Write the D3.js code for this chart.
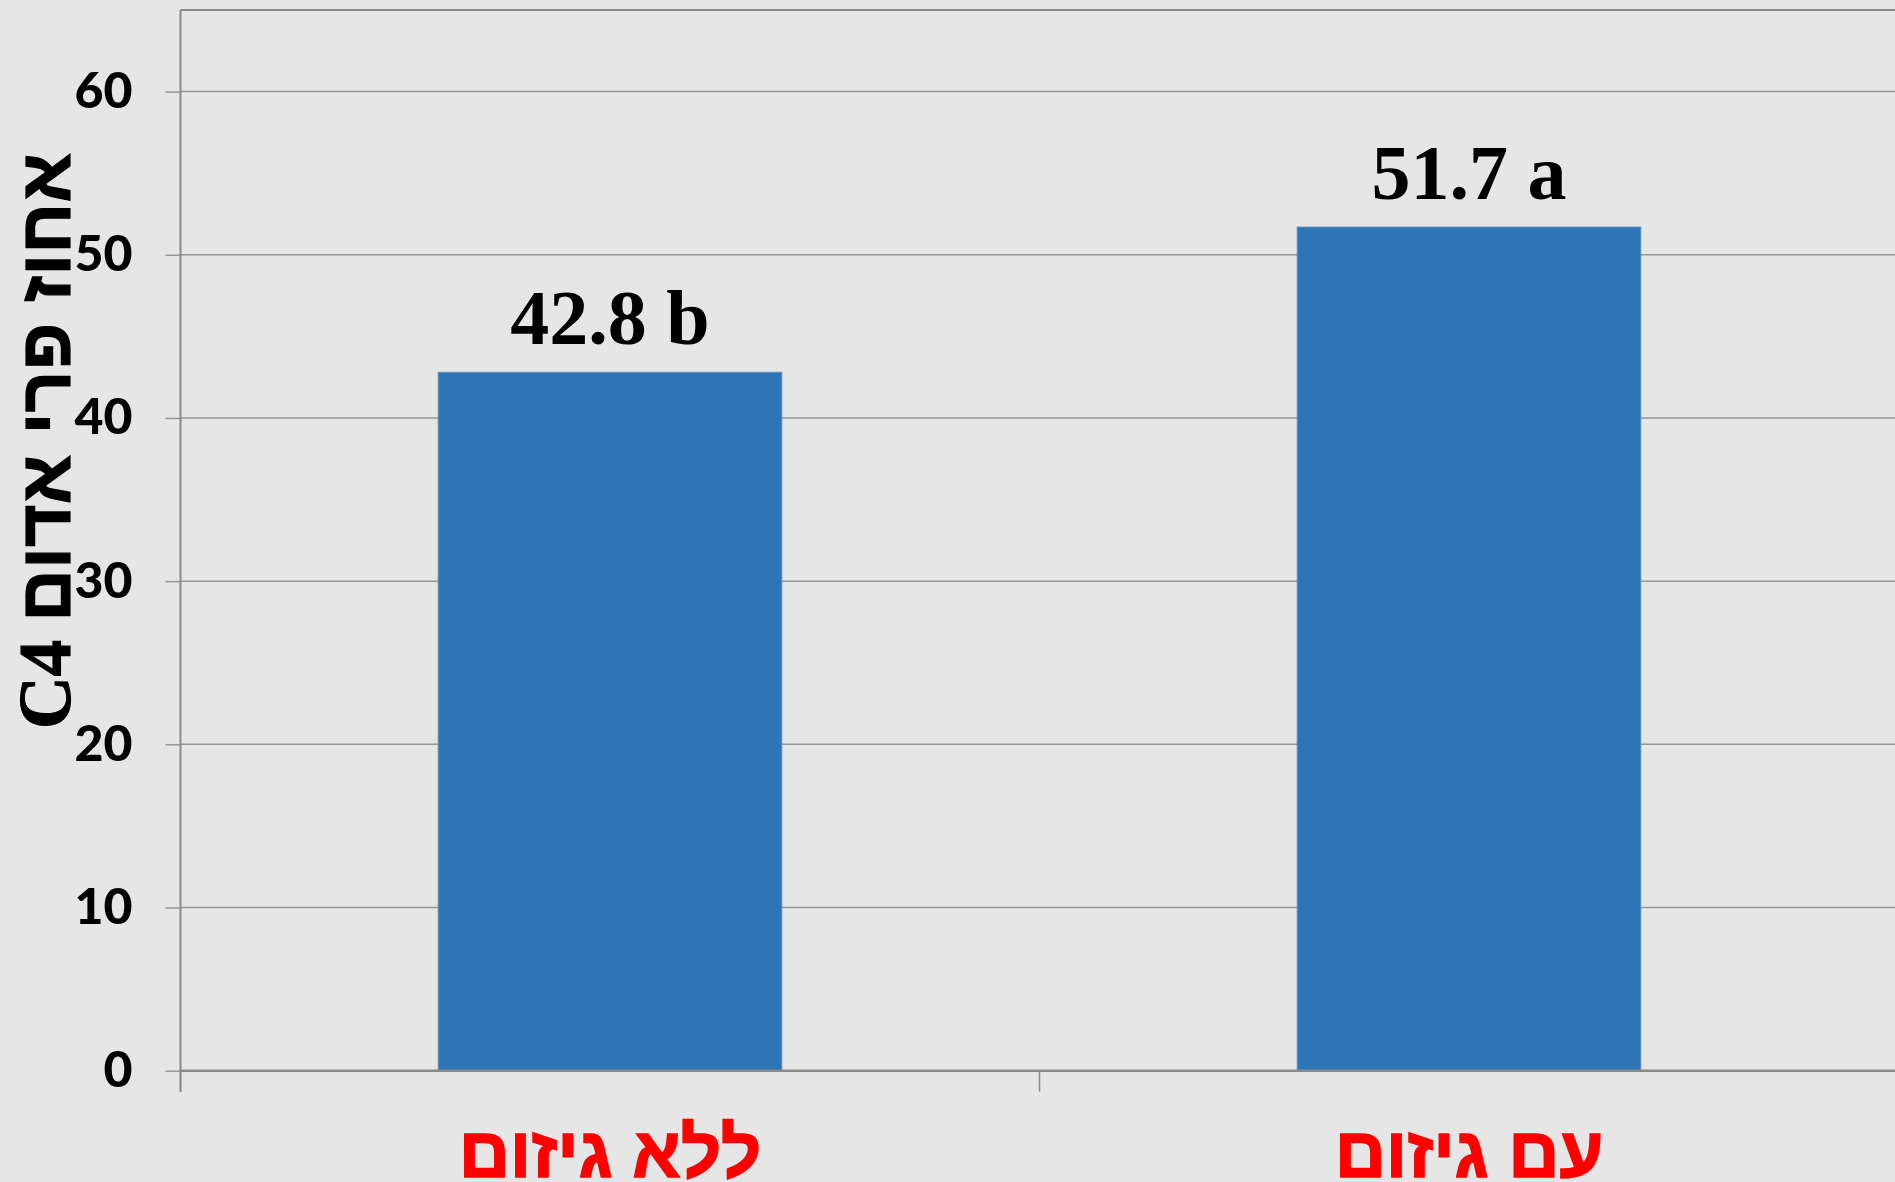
<!DOCTYPE html>
<html><head><meta charset="utf-8">
<script src="https://cdn.jsdelivr.net/npm/d3@7"></script>
<style>
html,body{margin:0;padding:0;background:#e6e6e6;overflow:hidden;}
svg{display:block;}
</style></head>
<body>
<svg id="chart" width="1895" height="1182"></svg>
<script>
const categories = ["ללא גיזום", "עם גיזום"];
const values = [42.8, 51.7];
const letters = ["b", "a"];
const yTicks = [0, 10, 20, 30, 40, 50, 60];
const yTitleLatin = "C4 ";
const yTitleHebrew = "אחוז פרי אדום";

(function () {
const svg = d3.select("#chart");
const W = 1895, H = 1182;
const pLeft = 180.5, pRight = 1898.5, pTop = 10, pBottom = 1070.7;

svg.append("rect").attr("width", W).attr("height", H).attr("fill", "#e6e6e6");

const x = d3.scaleBand().domain(categories).range([pLeft, pRight]).paddingInner(0.6).paddingOuter(0.3);
const y = d3.scaleLinear().domain([0, 65]).range([pBottom, pTop]);

// gridlines
svg.append("g").selectAll("line").data(yTicks.filter(d => d > 0)).join("line")
  .attr("x1", pLeft).attr("x2", W).attr("y1", d => y(d)).attr("y2", d => y(d))
  .attr("stroke", "#969696").attr("stroke-width", 1.5);

// top border
svg.append("line").attr("x1", pLeft).attr("x2", W).attr("y1", pTop).attr("y2", pTop)
  .attr("stroke", "#8a8a8a").attr("stroke-width", 2);

// bars
svg.append("g").selectAll("rect").data(values).join("rect")
  .attr("x", (d, i) => x(categories[i]))
  .attr("y", d => y(d))
  .attr("width", x.bandwidth())
  .attr("height", d => y(0) - y(d))
  .attr("fill", "#2e75b5")
  .attr("stroke", "#5b8fc4").attr("stroke-width", 1);

// y axis
const yAxis = d3.axisLeft(y).tickValues(yTicks).tickSize(15).tickPadding(33).tickFormat(d3.format("d"));
const gy = svg.append("g").attr("transform", `translate(${pLeft},0)`).call(yAxis);
gy.select(".domain").remove();
gy.selectAll(".tick line").attr("stroke", "#969696").attr("stroke-width", 1.5);
gy.selectAll(".tick text").attr("font-family", "Lato, 'Open Sans', sans-serif")
  .attr("font-weight", 900).attr("font-size", 50).attr("fill", "#000").attr("dy", "0.32em");
svg.append("line").attr("x1", pLeft).attr("x2", pLeft).attr("y1", pTop).attr("y2", pBottom + 21)
  .attr("stroke", "#8a8a8a").attr("stroke-width", 2);

// x axis
svg.append("line").attr("x1", pLeft).attr("x2", W).attr("y1", pBottom).attr("y2", pBottom)
  .attr("stroke", "#8a8a8a").attr("stroke-width", 2.5);
const boundaries = [pLeft, pLeft + x.step(), pLeft + 2 * x.step()];
svg.append("g").selectAll("line").data(boundaries).join("line")
  .attr("x1", d => d).attr("x2", d => d).attr("y1", pBottom).attr("y2", pBottom + 21)
  .attr("stroke", "#8a8a8a").attr("stroke-width", 1.5);

// category labels
svg.append("g").selectAll("text").data(categories).join("text")
  .attr("x", d => x(d) + x.bandwidth() / 2)
  .attr("y", 1177)
  .attr("text-anchor", "middle")
  .attr("direction", "rtl")
  .attr("font-family", "'Liberation Sans', 'DejaVu Sans', sans-serif")
  .attr("font-weight", 700).attr("font-size", 71).attr("fill", "#ff0000")
  .attr("stroke", "#ff0000").attr("stroke-width", 1.5)
  .text(d => d);

// value labels
svg.append("g").selectAll("text").data(values).join("text")
  .attr("x", (d, i) => x(categories[i]) + x.bandwidth() / 2)
  .attr("y", d => y(d) - 28)
  .attr("text-anchor", "middle")
  .attr("font-family", "'Liberation Serif', 'DejaVu Serif', serif")
  .attr("font-weight", 700).attr("font-size", 78).attr("fill", "#000")
  .text((d, i) => d.toFixed(1) + " " + letters[i]);

// y title
const yt = svg.append("text")
  .attr("transform", "translate(70,441) rotate(-90)")
  .attr("text-anchor", "middle")
  .attr("font-weight", 700).attr("font-size", 73).attr("fill", "#000")
  .attr("stroke", "#000").attr("stroke-width", 1.2);
yt.append("tspan").attr("font-family", "'Liberation Serif', serif").text(yTitleLatin);
yt.append("tspan").attr("font-family", "'Liberation Sans', 'DejaVu Sans', sans-serif").text(yTitleHebrew);
})();
</script>
</body></html>
